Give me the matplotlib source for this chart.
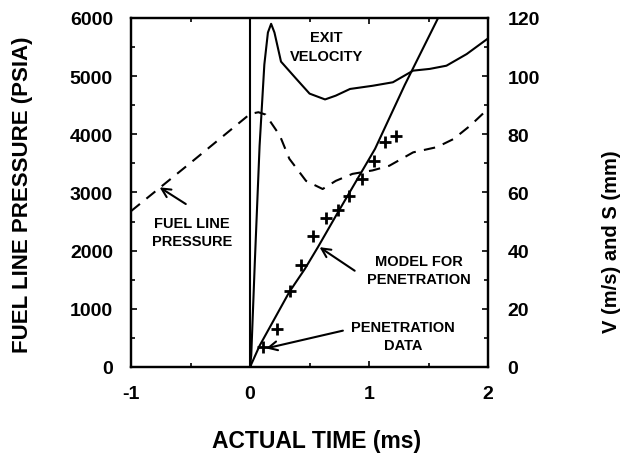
import matplotlib
matplotlib.use("Agg")
import matplotlib.pyplot as plt
from matplotlib.ticker import MultipleLocator

plt.rcParams['font.family'] = ['Liberation Sans', 'DejaVu Sans']
plt.rcParams['font.weight'] = 'bold'
plt.rcParams['axes.unicode_minus'] = False

# fuel line pressure (psia) vs actual time (ms)
t_press = [-1.0, -0.5, 0.0, 0.07, 0.13, 0.25, 0.33, 0.47, 0.61, 0.72, 0.86,
           1.03, 1.17, 1.37, 1.57, 1.71, 1.85, 2.0]
press = [2680, 3510, 4350, 4380, 4340, 3980, 3580, 3200, 3060, 3200, 3320,
         3380, 3460, 3690, 3780, 3920, 4150, 4440]

# exit velocity (m/s)
t_vel = [0.0, 0.01, 0.04, 0.08, 0.12, 0.15, 0.177, 0.205, 0.26, 0.39, 0.5,
         0.63, 0.72, 0.84, 1.03, 1.2, 1.37, 1.51, 1.65, 1.82, 2.0]
vel = [0, 4, 36, 76, 104, 115, 118, 115, 105, 99, 94,
       92, 93.3, 95.6, 96.7, 97.9, 101.9, 102.5, 103.6, 107.6, 113]

# model for penetration (mm)
t_model = [0.0, 0.08, 0.33, 0.46, 0.57, 0.73, 0.91, 1.05, 1.3, 1.58, 1.7]
model = [0, 7.3, 25.8, 33.7, 41.2, 52.6, 65.2, 75, 97, 120, 130]

# penetration data (mm)
t_data = [0.0, 0.107, 0.226, 0.333, 0.43, 0.53, 0.636, 0.735, 0.833, 0.938,
          1.04, 1.13, 1.23]
s_data = [0.0, 6.8, 13.1, 26.2, 35.1, 45.2, 51.1, 54.0, 58.9, 64.6,
          70.8, 77.3, 79.5]

fig = plt.figure(figsize=(6.21, 4.60), dpi=100)
ax = fig.add_axes([0.211, 0.2, 0.575, 0.7587])
ax2 = ax.twinx()

ax.plot(t_press, press, "k", lw=1.5, ls=(0, (5.5, 4)))
ax.axvline(0, color="k", lw=1.5)

ax2.plot(t_vel, vel, "k", lw=1.5)
ax2.plot(t_model, model, "k", lw=1.5)
ax2.plot(t_data, s_data, "k+", ms=8, mew=2)

ax.set_xlim(-1, 2)
ax.set_ylim(0, 6000)
ax2.set_ylim(0, 120)

ax.xaxis.set_major_locator(MultipleLocator(1))
ax.xaxis.set_minor_locator(MultipleLocator(0.5))
ax.yaxis.set_major_locator(MultipleLocator(1000))
ax.yaxis.set_minor_locator(MultipleLocator(500))
ax2.yaxis.set_major_locator(MultipleLocator(20))
ax2.yaxis.set_minor_locator(MultipleLocator(10))

ax.tick_params(axis="x", which="both", direction="in", top=True, width=1.2)
ax.tick_params(axis="x", which="major", length=4, pad=13, labelsize=14)
ax.tick_params(axis="x", which="minor", length=3)
ax.tick_params(axis="y", which="both", direction="in", width=1.2)
ax.tick_params(axis="y", which="major", length=4, pad=13, labelsize=14)
ax.tick_params(axis="y", which="minor", length=3)
ax2.tick_params(axis="y", which="both", direction="in", width=1.2)
ax2.tick_params(axis="y", which="major", length=4, pad=14, labelsize=14)
ax2.tick_params(axis="y", which="minor", length=3)

for a in (ax, ax2):
    for sp in a.spines.values():
        sp.set_linewidth(1.6)

fig.text(0.036, 0.576, "FUEL LINE PRESSURE (PSIA)", rotation=90,
         ha="center", va="center", fontsize=16)
fig.text(0.984, 0.475, "V (m/s) and S (mm)", rotation=90,
         ha="center", va="center", fontsize=14.5)
fig.text(0.509, 0.04, "ACTUAL TIME (ms)", ha="center", va="center",
         fontsize=16.5)

arrow = dict(arrowstyle="->", lw=1.5, mutation_scale=16, shrinkA=0, shrinkB=0)

ax.text(0.64, 5510, "EXIT\nVELOCITY", ha="center", va="center",
        fontsize=10.5, linespacing=1.4)

ax.text(-0.49, 2316, "FUEL LINE\nPRESSURE", ha="center", va="center",
        fontsize=10.5, linespacing=1.4)
ax.annotate("", xy=(-0.76, 3089), xytext=(-0.54, 2802), arrowprops=arrow)

ax2.text(1.418, 33.4, "MODEL FOR\nPENETRATION", ha="center", va="center",
         fontsize=10.5, linespacing=1.4)
ax2.annotate("", xy=(0.584, 41.2), xytext=(0.879, 33.1), arrowprops=arrow)

ax2.text(1.283, 10.6, "PENETRATION\nDATA", ha="center", va="center",
         fontsize=10.5, linespacing=1.4)
ax2.annotate("", xy=(0.135, 6.4), xytext=(0.78, 12.5), arrowprops=arrow)

fig.savefig("out.png", dpi=100)
